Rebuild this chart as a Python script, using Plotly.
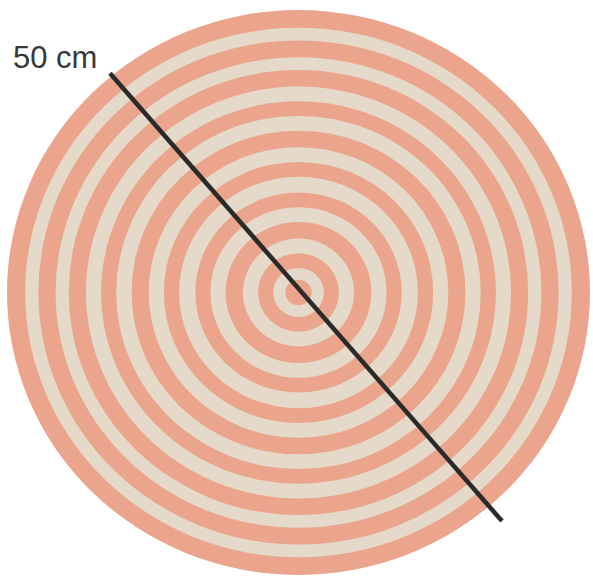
import plotly.graph_objects as go

# Rug: outer radius of each band (cm), from the centre outwards
band_outer_radius_cm = [1.13, 2.17, 3.47, 4.77, 6.25, 7.55, 8.85, 10.24, 11.55,
                        12.85, 14.32, 15.63, 16.93, 18.23, 19.70, 20.83, 22.31,
                        23.44, 25.0]
band_colour = ["salmon" if i % 2 == 0 else "cream" for i in range(len(band_outer_radius_cm))]
# slight perspective squash of the photo (vertical / horizontal)
squash = 0.969
# diameter line end points (cm)
diam_x = [-16.17, 17.45]
diam_y = [18.81, -19.60]
label_text = "50 cm"

palette = {"salmon": "#EAA58C", "cream": "#E5DACA"}

fig = go.Figure()
shapes = []
for r, c in sorted(zip(band_outer_radius_cm, band_colour), key=lambda t: -t[0]):
    shapes.append(dict(type="circle", xref="x", yref="y",
                       x0=-r, x1=r, y0=-r * squash, y1=r * squash,
                       fillcolor=palette[c], line=dict(width=0), layer="below"))
fig.add_trace(go.Scatter(x=diam_x, y=diam_y, mode="lines",
                         line=dict(color="#2A2A2A", width=4.5),
                         hoverinfo="skip", showlegend=False))

W, H = 593, 584
sx = 291.5 / 25.0
sy = sx  # squash already applied in data
cx, cy = 298.5, 292.5
fig.update_layout(
    width=W, height=H,
    margin=dict(l=0, r=0, t=0, b=0),
    paper_bgcolor="white", plot_bgcolor="white",
    shapes=shapes,
    xaxis=dict(range=[-cx / sx, (W - cx) / sx], visible=False, fixedrange=True),
    yaxis=dict(range=[(cy - H) / sy, cy / sy], visible=False, fixedrange=True),
    showlegend=False,
    annotations=[dict(text=label_text, xref="paper", yref="paper",
                      x=11 / W, y=1 - 58 / H, xanchor="left", yanchor="middle",
                      showarrow=False,
                      font=dict(family="Liberation Sans, Arial", size=31, color="#383838"))],
)
fig.write_html("out.html", config={"displayModeBar": False},
               post_script="document.body.style.margin='0';document.body.style.overflow='hidden';")
